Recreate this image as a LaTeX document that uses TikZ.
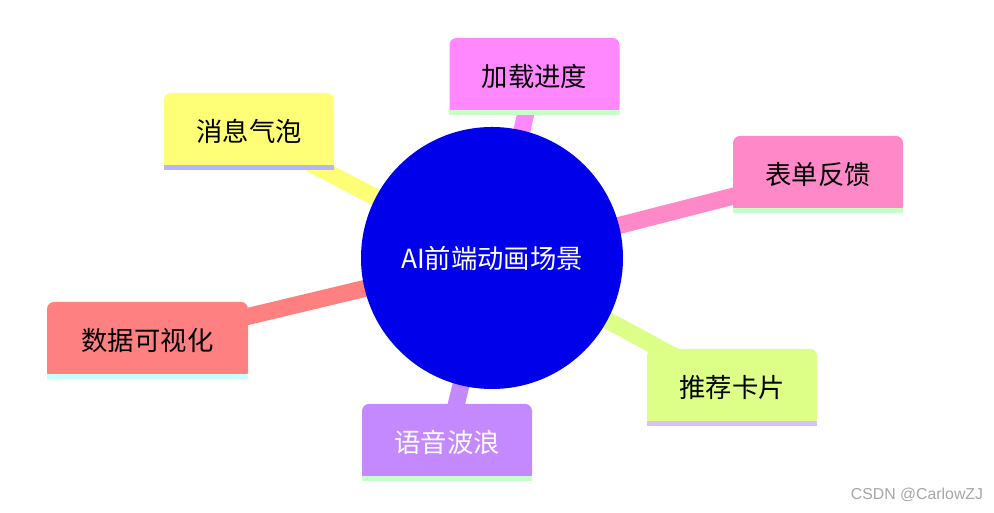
\documentclass[tikz,border=0pt]{standalone}
\usepackage{fontspec}
\setmainfont{Noto Sans CJK SC}
\newfontfamily\wmfont{Liberation Sans}
\definecolor{cLoad}{HTML}{FF88FF}
\definecolor{cBubble}{HTML}{FFFF77}
\definecolor{cForm}{HTML}{FF88C8}
\definecolor{cData}{HTML}{FF8080}
\definecolor{cCard}{HTML}{DDFF88}
\definecolor{cVoice}{HTML}{C488FF}
\definecolor{sGreen}{HTML}{C8FFC8}
\definecolor{sBlue}{HTML}{B4B4FF}
\definecolor{sCyan}{HTML}{C8FFFF}
\definecolor{sLav}{HTML}{D8C0FF}

\tikzset{
  leaf/.style={rounded corners=4pt, minimum width=3.4cm, minimum height=1.54cm,
    inner sep=0pt, font=\fontsize{15}{18}\selectfont},
  link/.style={line width=17*0.02cm},
}

\begin{document}
\begin{tikzpicture}
  \useasboundingbox (0,0) rectangle (19.88,10.26);

  % centre
  \coordinate (c) at (9.84,5.10);

  % branches
  \foreach \name/\pos/\fc in {load/{(10.69,8.73)}/cLoad, bubble/{(4.98,7.63)}/cBubble,
      form/{(16.36,6.77)}/cForm, data/{(2.95,3.45)}/cData,
      card/{(14.64,2.51)}/cCard, voice/{(8.94,1.41)}/cVoice}
    \draw[link, \fc] (c) -- \pos;

  \node[circle, fill={rgb,255:red,0;green,0;blue,235}, minimum size=5.24cm, text=white,
    font=\fontsize{15}{18}\selectfont] (root) at (c) {AI前端动画场景};

  \node[leaf, fill=cLoad] (load) at (10.69,8.73) {加载进度};
  \node[leaf, fill=cBubble] (bubble) at (4.98,7.63) {消息气泡};
  \node[leaf, fill=cForm] (form) at (16.36,6.77) {表单反馈};
  \node[leaf, fill=cData, minimum width=4.02cm] (data) at (2.95,3.45) {数据可视化};
  \node[leaf, fill=cCard] (card) at (14.64,2.51) {推荐卡片};
  \node[leaf, fill=cVoice, text=white] (voice) at (8.94,1.41) {语音波浪};

  % bottom stripes
  \foreach \n/\sc in {load/sGreen, bubble/sBlue, form/sGreen, data/sCyan, card/sLav, voice/sGreen}
    \fill[\sc] (\n.south west) rectangle ([yshift=0.1cm]\n.south east);

  \node[text=gray!70, font=\wmfont\fontsize{9}{10}\selectfont] (wm) at (18.34,0.36) {CSDN @CarlowZJ};
\end{tikzpicture}
\end{document}
